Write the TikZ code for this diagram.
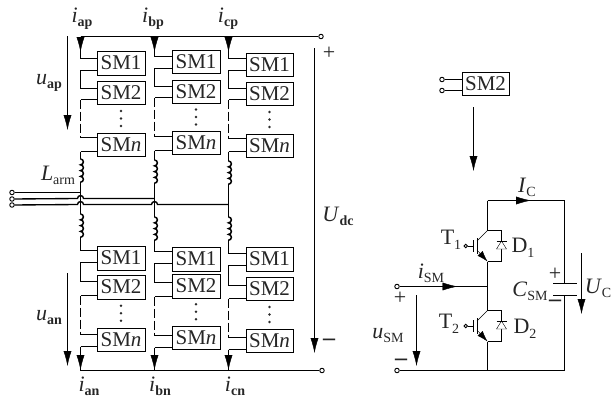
\documentclass[tikz,border=0pt]{standalone}
\usepackage{fontspec}
\setmainfont{Liberation Serif}
\usetikzlibrary{arrows.meta,calc}
\definecolor{wire}{HTML}{2b2b2b}
\newcommand{\symsub}[2]{\textit{#1}\raisebox{-4pt}{\fontsize{14}{14}\selectfont #2}}
\newcommand{\txtsub}[2]{#1\raisebox{-5pt}{\fontsize{14}{14}\selectfont #2}}
\tikzset{
    x=1pt,y=-1pt,line width=1.2pt,draw=wire,
    smbox/.style = {rectangle, draw, minimum width=47.5pt, minimum height=23.5pt, inner sep=0pt, font=\fontsize{21}{22}\selectfont, text=black!85},
    term/.style = {circle, draw, fill=white, line width=0.9pt, inner sep=0pt, minimum size=4.5pt},
    lbl/.style = {inner sep=0pt, font=\fontsize{22}{24}\selectfont, text=black!85},
    sign/.style = {inner sep=0pt, font=\bfseries\fontsize{24}{24}\selectfont, text=black!85},
    sigarrow/.style = {-{Latex[length=15pt,width=8pt]}},
    acline/.style = {line width=1.35pt},
    coilline/.style = {line width=1.5pt}
}
\begin{document}
\begin{tikzpicture}
    \useasboundingbox (0,0) rectangle (612,399);

    % the six arms
    \foreach \arm/\xr/\xb/\ya/\yb/\yc/\la/\lb/\lc/\ld/\le/\lf in {
        ap/80.5/121/63/92.5/144.5/58.5/70.5/88.5/99.5/137.5/151.5,
        bp/154.5/196/61.5/91.5/142.5/56.5/68.5/86.5/97.5/136.5/150.5,
        cp/228.5/269.5/64.5/93.5/145.5/58.5/70.5/88.5/99.5/138.5/151.5,
        an/80.5/121/258/287/339.5/250.5/262.5/281.5/295.5/334.5/346.5,
        bn/154.5/196/259/286/337.5/251.5/263.5/282.5/296.5/335.5/347.5,
        cn/228.5/269.5/259/288.5/340.5/253.5/265.5/285.5/298.5/337.5/349.5}{
        \node[smbox] (\arm1) at (\xb,\ya) {SM1};
        \node[smbox] (\arm2) at (\xb,\yb) {SM2};
        \node[smbox] (\arm3) at (\xb,\yc) {SM\textit{n}};
        \coordinate (\arm a) at (\xr,\la);
        \coordinate (\arm b) at (\xr,\lb);
        \coordinate (\arm c) at (\xr,\lc);
        \coordinate (\arm d) at (\xr,\ld);
        \coordinate (\arm e) at (\xr,\le);
        \coordinate (\arm f) at (\xr,\lf);
        \draw (\arm a) -- (\arm1.west |- \arm a);
        \draw (\arm1.west |- \arm b) -- (\arm b) -- (\arm c) -- (\arm2.west |- \arm c);
        \draw (\arm2.west |- \arm d) -- (\arm d);
        \draw[dash pattern=on 9pt off 3pt] (\arm d) -- (\arm e);
        \draw (\arm e) -- (\arm3.west |- \arm e);
        \draw (\arm f) -- (\arm3.west |- \arm f);
        \foreach \d in {-7.5,0,7.5}
            \fill[wire] ([yshift=\d pt]$(\arm2)!0.5!(\arm3)$) circle[radius=1.3pt];
    }

    % arm inductors
    \foreach \nm/\xr/\yt in {Lap/80.5/159,Lbp/154.5/160,Lcp/228.5/161,Lan/80.5/214,Lbn/154.5/217,Lcn/228.5/217}{
        \coordinate (\nm t) at (\xr,\yt);
        \draw[coilline] (\nm t) arc[start angle=90,end angle=-90,radius=2.9pt]
            arc[start angle=90,end angle=-90,radius=2.9pt]
            arc[start angle=90,end angle=-90,radius=2.9pt]
            arc[start angle=90,end angle=-90,radius=2.9pt] coordinate (\nm b);
    }
    \draw (apf) -- (Lapt);
    \draw (bpf) -- (Lbpt);
    \draw (cpf) -- (Lcpt);
    \draw (Lapb) -- (Lant);
    \draw (Lbpb) -- (Lbnt);
    \draw (Lcpb) -- (Lcnt);
    \draw (Lanb) -- (ana);
    \draw (Lbnb) -- (bna);
    \draw (Lcnb) -- (cna);

    % dc buses
    \node[term] (dcp) at (321,36.5) {};
    \node[term] (dcn) at (322,370.5) {};
    \coordinate (topa) at (80.5,36.5);
    \coordinate (topb) at (154.5,36.5);
    \coordinate (topc) at (228.5,36.5);
    \coordinate (bota) at (80.5,370.5);
    \coordinate (botb) at (154.5,370.5);
    \coordinate (botc) at (228.5,370.5);
    \draw (topa) -- (dcp);
    \draw (bota) -- (dcn);
    \draw (topa) -- (apa);
    \draw (topb) -- (bpa);
    \draw (topc) -- (cpa);
    \draw (anf) -- (bota);
    \draw (bnf) -- (botb);
    \draw (cnf) -- (botc);
    \foreach \p/\xr in {a/80.5,b/154.5,c/228.5}{
        \coordinate (tip\p) at (\xr,52);
        \coordinate (end\p) at (\xr,370);
        \draw[sigarrow] (top\p) -- (tip\p);
        \draw[sigarrow] (\xr,350) -- (end\p);
    }

    % ac side
    \node[term] (aca) at (12,192.5) {};
    \node[term] (acb) at (12,199) {};
    \node[term] (acc) at (12,205) {};
    \coordinate (ja) at (80.5,192.5);
    \coordinate (jb) at (154.5,198.5);
    \coordinate (jc) at (228.5,204.5);
    \draw[acline] (aca) -- (ja);
    \draw[acline] (acb) -- (77.5,198.5) arc[start angle=180,end angle=0,radius=3pt] -- (jb);
    \draw[acline] (acc) -- (77.5,204.5) arc[start angle=180,end angle=0,radius=3pt]
        -- (151.5,204.5) arc[start angle=180,end angle=0,radius=3pt] -- (jc);

    % arm and dc voltages
    \coordinate (uapt) at (67.5,36);
    \coordinate (uapb) at (67.5,130);
    \coordinate (uant) at (67.5,273);
    \coordinate (uanb) at (67.5,366);
    \coordinate (udct) at (314.5,48);
    \coordinate (udcb) at (314.5,353);
    \draw[sigarrow] (uapt) -- (uapb);
    \draw[sigarrow] (uant) -- (uanb);
    \draw[sigarrow] (udct) -- (udcb);

    \node[lbl] (iap) at (82,19) {\symsub{i}{\textbf{ap}}};
    \node[lbl] (ibp) at (153,19) {\symsub{i}{\textbf{bp}}};
    \node[lbl] (icp) at (228,19) {\symsub{i}{\textbf{cp}}};
    \node[lbl] (ian) at (89,386) {\symsub{i}{\textbf{an}}};
    \node[lbl] (ibn) at (160,386) {\symsub{i}{\textbf{bn}}};
    \node[lbl] (icn) at (235,386) {\symsub{i}{\textbf{cn}}};
    \node[lbl] (uap) at (49,83) {\symsub{u}{\textbf{ap}}};
    \node[lbl] (uan) at (49,318) {\symsub{u}{\textbf{an}}};
    \node[lbl] (larm) at (58,175) {\symsub{L}{arm}};
    \node[lbl] (udc) at (338,216) {\symsub{U}{\textbf{dc}}};
    \node[lbl] (plusdc) at (329,53) {+};
    \node[sign] (minusdc) at (329,342) {--};

    % submodule
    \node[smbox] (sm) at (485.5,83.8) {SM2};
    \node[term] (sma) at (442,79.5) {};
    \node[term] (smb) at (442,90.5) {};
    \draw (sma) -- (sm.west |- sma);
    \draw (smb) -- (sm.west |- smb);
    \coordinate (zoomt) at (473.5,107);
    \coordinate (zoomb) at (473.5,171);
    \draw[sigarrow] (zoomt) -- (zoomb);

    \coordinate (railt) at (487.5,200.5);
    \coordinate (railtr) at (564.5,200.5);
    \coordinate (railm) at (487.5,286.5);
    \coordinate (railb) at (487.5,370.5);
    \coordinate (railbr) at (564.5,370.5);
    \coordinate (icap) at (531,200.5);
    \coordinate (ismt) at (457.5,286.5);
    \node[term] (smp) at (397,286.5) {};
    \node[term] (smn) at (397,370.5) {};
    \foreach \sw/\yc in {Tu/246,Td/326}{
        \coordinate (\sw c) at (487.5,\yc-15.5);
        \coordinate (\sw e) at (487.5,\yc+15.5);
        \coordinate (\sw r) at (501.5,\yc-15.5);
        \coordinate (\sw s) at (501.5,\yc+15.5);
        \node[term,minimum size=3.5pt] (\sw g) at (465.7,\yc) {};
        \draw (\sw g) -- (473,\yc);
        \draw (473,\yc-6) -- (473,\yc+6);
        \draw (477,\yc-8) -- (477,\yc+8);
        \draw (477,\yc-5) -- (\sw c);
        \draw[-{Latex[length=11pt,width=7pt]}] (477,\yc+4) -- (\sw e);
        \draw (\sw c) -- (\sw r) -- (\sw s) -- (\sw e);
        \filldraw[fill=white] (501.5,\yc-5) -- (496.5,\yc+3) -- (506.5,\yc+3) -- cycle;
        \draw (496.5,\yc-5) -- (506.5,\yc-5);
    }
    \draw (railt) -- (railtr);
    \draw[sigarrow] (railt) -- (icap);
    \draw (railt) -- (Tuc);
    \draw (Tue) -- (Tdc);
    \draw (Tde) -- (railb);
    \draw (smp) -- (railm);
    \draw[sigarrow] (smp) -- (ismt);
    \draw (smn) -- (railbr);

    % dc capacitor
    \coordinate (capa) at (564.5,283.5);
    \coordinate (capb) at (564.5,295.5);
    \draw (railtr) -- (capa);
    \draw (capb) -- (railbr);
    \draw (553,283.5) -- (576.7,283.5);
    \draw (553,295.5) -- (576.7,295.5);

    \coordinate (uct) at (581.5,253);
    \coordinate (ucb) at (581.5,314);
    \coordinate (usmt) at (416.5,295);
    \coordinate (usmb) at (416.5,366);
    \draw[sigarrow] (uct) -- (ucb);
    \draw[sigarrow] (usmt) -- (usmb);

    \node[lbl] (ilc) at (527,187) {\symsub{I}{C}};
    \node[lbl] (ism) at (431,273) {\symsub{i}{SM}};
    \node[lbl] (csm) at (530,291) {\symsub{C}{SM}};
    \node[lbl] (uc) at (598,288) {\symsub{U}{C}};
    \node[lbl] (usm) at (388,336) {\symsub{u}{SM}};
    \node[lbl] (t1) at (451,240) {\txtsub{T}{1}};
    \node[lbl] (t2) at (449,324) {\txtsub{T}{2}};
    \node[lbl] (d1) at (523,248) {\txtsub{D}{1}};
    \node[lbl] (d2) at (525,329) {\txtsub{D}{2}};
    \node[lbl] (plussm) at (400,298) {+};
    \node[sign] (minussm) at (401,362) {--};
    \node[lbl] (pluscap) at (555,274) {+};
    \node[sign] (minuscap) at (555,303) {--};
\end{tikzpicture}
\end{document}
